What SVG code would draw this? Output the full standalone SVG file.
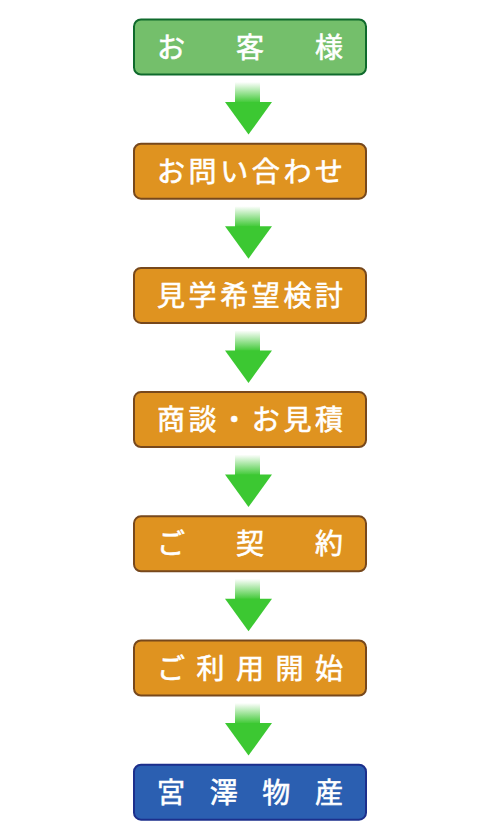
<svg xmlns="http://www.w3.org/2000/svg" width="500" height="840" viewBox="0 0 500 840">
<defs>
<linearGradient id="fade" x1="0" y1="0" x2="0" y2="1">
<stop offset="0" stop-color="#ffffff"/>
<stop offset="1" stop-color="#3cc832"/>
</linearGradient>
<g id="arrow">
<rect x="235" y="0" width="25" height="21" fill="url(#fade)"/>
<polygon points="225,20 272,20 248.5,52.5" fill="#3cc832"/>
</g>
<style>
.box{stroke-width:2}
.g{fill:#74bf6b;stroke:#0f6a2c}
.o{fill:#df9320;stroke:#77481c}
.b{fill:#2b5fb1;stroke:#1c2f8c}
.t{fill:#ffffff;stroke:#ffffff;stroke-width:0.6px;font-family:"Noto Sans CJK JP","Noto Sans CJK SC",sans-serif;font-size:28px;font-weight:400;dominant-baseline:central}
</style>
</defs>
<rect width="500" height="840" fill="#ffffff"/>
<g id="connectors">
<use href="#arrow" y="82"/>
<use href="#arrow" y="206.2"/>
<use href="#arrow" y="330.4"/>
<use href="#arrow" y="454.6"/>
<use href="#arrow" y="578.8"/>
<use href="#arrow" y="703"/>
</g>
<g id="n1"><rect class="box g" x="134" y="19.5" width="232" height="55" rx="7"/>
<text class="t" x="157 236 315" y="45.5">お客様</text></g>
<g id="n2"><rect class="box o" x="134" y="143.7" width="232" height="55" rx="7"/>
<text class="t" x="157 188.6 220.2 251.8 283.4 315" y="169.7">お問い合わせ</text></g>
<g id="n3"><rect class="box o" x="134" y="267.9" width="232" height="55" rx="7"/>
<text class="t" x="157 188.6 220.2 251.8 283.4 315" y="293.9">見学希望検討</text></g>
<g id="n4"><rect class="box o" x="134" y="392.1" width="232" height="55" rx="7"/>
<text class="t" x="157 188.6 220.2 251.8 283.4 315" y="418.1">商談・お見積</text></g>
<g id="n5"><rect class="box o" x="134" y="516.3" width="232" height="55" rx="7"/>
<text class="t" x="157 236 315" y="542.3">ご契約</text></g>
<g id="n6"><rect class="box o" x="134" y="640.5" width="232" height="55" rx="7"/>
<text class="t" x="157 196.5 236 275.5 315" y="666.5">ご利用開始</text></g>
<g id="n7"><rect class="box b" x="134" y="764.7" width="232" height="55" rx="7"/>
<text class="t" x="157 209.7 262.3 315" y="790.7">宮澤物産</text></g>
</svg>
